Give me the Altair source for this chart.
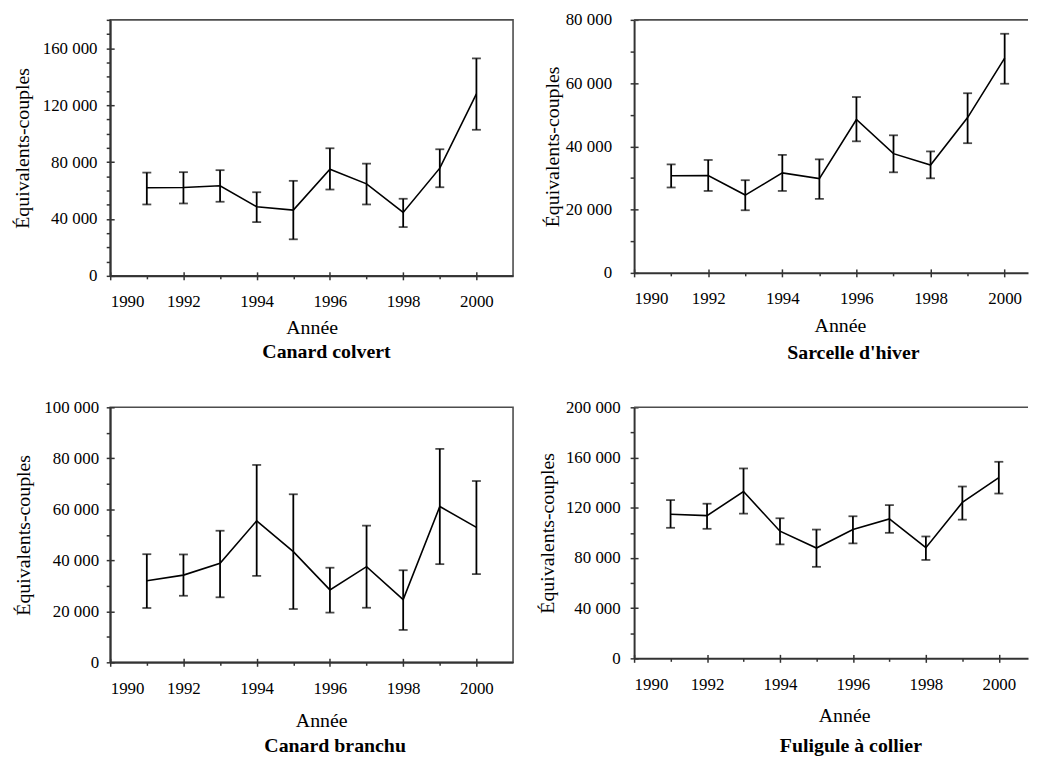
import altair as alt
import pandas as pd

FONT = "Liberation Serif"

years = [1991, 1992, 1993, 1994, 1995, 1996, 1997, 1998, 1999, 2000]

colvert_mean = [61900, 62100, 63300, 48600, 46200, 75000, 64700, 44600, 75700, 128000]
colvert_low = [50200, 50900, 52100, 37800, 25700, 60700, 50200, 34300, 62300, 102700]
colvert_high = [72600, 72900, 74300, 58800, 66800, 89700, 78900, 54200, 89000, 152900]

sarcelle_mean = [30700, 30800, 24600, 31600, 29800, 48500, 37700, 34100, 49100, 67900]
sarcelle_low = [27000, 25900, 19800, 25900, 23400, 41600, 31800, 29900, 41000, 59800]
sarcelle_high = [34300, 35700, 29300, 37300, 35900, 55600, 43500, 38400, 56800, 75600]

branchu_mean = [32000, 34200, 38800, 55500, 43400, 28400, 37500, 24600, 61100, 52900]
branchu_low = [21300, 26100, 25500, 33900, 20900, 19500, 21400, 12700, 38500, 34600]
branchu_high = [42400, 42300, 51600, 77400, 65900, 37100, 53600, 36100, 83700, 71100]

fuligule_mean = [114800, 113700, 132900, 101300, 87900, 102600, 111100, 88200, 124200, 144000]
fuligule_low = [104000, 103200, 115300, 90800, 72900, 91600, 100000, 78400, 110500, 131300]
fuligule_high = [126100, 123200, 151300, 111600, 102600, 113200, 122100, 97100, 136900, 156600]

major_x = [1990, 1992, 1994, 1996, 1998, 2000]
minor_x = [1991, 1993, 1995, 1997, 1999]

x_title = "Année"
y_title = "Équivalents-couples"

AXIS_COLOR = "#333333"
FRAME_COLOR = "#4d4d4d"


def panel(name, mean, low, high, ymax, major_step, minor_step, width, height,
          xmax, top_rule, cap_dx, cap_offset, x_title_pad, x_title_dx,
          show_frame, y_label_pad, y_title_pad):
    df = pd.DataFrame({"year": years, "mean": mean, "low": low, "high": high})
    base = alt.Chart(df)
    xs = alt.Scale(domain=[1990, xmax], nice=False, zero=False)
    ys = alt.Scale(domain=[0, ymax], nice=False)
    major_y = list(range(0, ymax + 1, major_step))
    minor_y = [v for v in range(0, ymax + 1, minor_step) if v % major_step != 0]

    minor_x_axis = alt.Axis(values=minor_x, tickSize=3, labels=False, title=None,
                            domain=True, domainColor=AXIS_COLOR, domainWidth=2,
                            tickColor=AXIS_COLOR, tickWidth=1.5, grid=False,
                            orient="bottom")
    minor_y_axis = alt.Axis(values=minor_y, tickSize=4, labels=False, title=None,
                            domain=True, domainColor=AXIS_COLOR, domainWidth=2,
                            tickColor=AXIS_COLOR, tickWidth=1.5, grid=False,
                            orient="left")
    major_x_axis = alt.Axis(values=major_x, tickSize=8, offset=-4, domain=False,
                            tickColor=AXIS_COLOR, tickWidth=1.5, grid=False,
                            format="d", labelPadding=14, labelFont=FONT,
                            labelFontSize=17, labelColor="black",
                            title=x_title, titleFont=FONT, titleFontSize=20,
                            titleFontWeight="normal", titleColor="black",
                            titlePadding=x_title_pad, titleX=width / 2 + x_title_dx,
                            orient="bottom")
    major_y_axis = alt.Axis(values=major_y, tickSize=8, offset=-4, domain=False,
                            tickColor=AXIS_COLOR, tickWidth=1.5, grid=False,
                            labelExpr="replace(format(datum.value, ','), ',', ' ')",
                            labelPadding=y_label_pad, labelFont=FONT,
                            labelFontSize=17, labelColor="black",
                            title=y_title, titleFont=FONT, titleFontSize=20,
                            titleFontWeight="normal", titleColor="black",
                            titlePadding=y_title_pad, orient="left")

    line = base.mark_line(color="black", strokeWidth=1.6).encode(
        x=alt.X("year:Q", scale=xs, axis=minor_x_axis),
        y=alt.Y("mean:Q", scale=ys, axis=minor_y_axis),
    )
    bars = base.mark_rule(color="black", strokeWidth=1.8).encode(
        x=alt.X("year:Q", scale=xs, axis=major_x_axis),
        y=alt.Y("low:Q", scale=ys, axis=major_y_axis),
        y2="high:Q",
    )
    cap_lo = base.mark_tick(color="black", orient="horizontal", size=9,
                            thickness=1.8).encode(
        x=alt.X("year:Q", scale=xs, axis=None),
        y=alt.Y("low:Q", scale=ys, axis=None),
    )
    cap_hi = base.mark_tick(color="black", orient="horizontal", size=9,
                            thickness=1.8).encode(
        x=alt.X("year:Q", scale=xs, axis=None),
        y=alt.Y("high:Q", scale=ys, axis=None),
    )
    layers = [line, bars, cap_lo, cap_hi]
    if top_rule:
        frame = alt.Chart(alt.Data(values=[{"k": 1}])).mark_rule(
            color=FRAME_COLOR, strokeWidth=1.6).encode(
            x=alt.value(0), x2=alt.value(width), y=alt.value(0))
        layers.append(frame)

    if show_frame:
        view = alt.ViewBackground(stroke=FRAME_COLOR, strokeWidth=1.6)
    else:
        view = alt.ViewBackground(strokeOpacity=0)

    return alt.layer(*layers).resolve_axis(
        x="independent", y="independent"
    ).properties(
        width=width,
        height=height,
        view=view,
        title=alt.TitleParams(text=name, orient="bottom", anchor="middle",
                              frame="group", dx=cap_dx, offset=cap_offset,
                              font=FONT, fontSize=20, fontWeight="bold",
                              color="black"),
    )


p1 = panel("Canard colvert", colvert_mean, colvert_low, colvert_high,
           180000, 40000, 10000, 406, 258, 2001, False,
           15, 5, 8, 0, True, 9.3, 10)
p2 = panel("Sarcelle d'hiver", sarcelle_mean, sarcelle_low, sarcelle_high,
           80000, 20000, 10000, 397, 255, 2000.63, True,
           22.5, 7, 9.4, 9, False, 18.7, 3)
p3 = panel("Canard branchu", branchu_mean, branchu_low, branchu_high,
           100000, 20000, 10000, 406, 257, 2001, False,
           23.7, 5, 15, 9.7, True, 7.7, 10)
p4 = panel("Fuligule à collier", fuligule_mean, fuligule_low, fuligule_high,
           200000, 40000, 20000, 397, 253, 2000.80, True,
           20, 10, 14, 13.2, False, 10, 8)

chart = alt.concat(
    p1, p2, p3, p4, columns=2, bounds="flush",
    align={"row": "all", "column": "none"},
    spacing={"row": 132.5, "column": 122},
).properties(
    padding={"left": 3, "top": 0, "right": 0, "bottom": 0}
).configure(background="white")

chart.save("out.html", embed_options={"renderer": "svg", "actions": False})
